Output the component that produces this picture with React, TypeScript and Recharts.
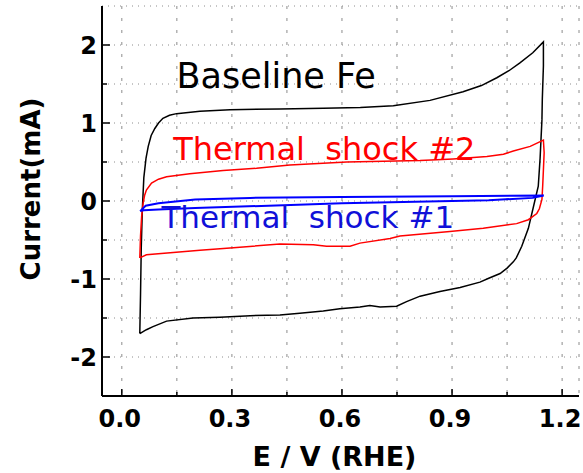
import React from 'react';
import { LineChart, Line, XAxis, YAxis, CartesianGrid, ReferenceDot } from 'recharts';

// ---- axis ticks ----
const xTicks = [0, 0.15, 0.3, 0.45, 0.6, 0.75, 0.9, 1.05, 1.2];
const xTickLabels = ['0.0', '0.3', '0.6', '0.9', '1.2'];
const yTicks = [-2, -1.5, -1, -0.5, 0, 0.5, 1, 1.5, 2];
const yTickLabels = ['-2', '-1', '0', '1', '2'];
const xDomain = [-0.054, 1.246];
const yDomain = [-2.5, 2.5];

// ---- Baseline Fe (black) ----
const baselineE = [
  0.049, 0.051, 0.053, 0.056, 0.060, 0.066, 0.072, 0.080, 0.090, 0.100, 0.112, 0.130, 0.149, 0.213, 0.295, 0.431, 0.549, 0.650, 0.740, 0.840, 0.930, 0.980, 1.022, 1.055, 1.085, 1.120, 1.149,
  1.149, 1.146, 1.145, 1.140, 1.135, 1.122, 1.108, 1.090, 1.075, 1.067, 1.050, 1.031, 1.000, 0.976, 0.922, 0.867, 0.813, 0.776, 0.749, 0.704, 0.676, 0.649, 0.594, 0.549, 0.485, 0.431, 0.350, 0.267, 0.194, 0.122, 0.085, 0.067, 0.049,
];
const baselineI = [
  -1.70, -1.20, -0.60, -0.10, 0.30, 0.55, 0.70, 0.84, 0.93, 1.00, 1.06, 1.10, 1.12, 1.15, 1.17, 1.18, 1.19, 1.20, 1.22, 1.29, 1.40, 1.48, 1.58, 1.67, 1.77, 1.90, 2.04,
  1.73, 1.30, 1.04, 0.55, 0.19, -0.07, -0.35, -0.58, -0.73, -0.78, -0.86, -0.93, -0.99, -1.04, -1.11, -1.16, -1.22, -1.29, -1.35, -1.36, -1.34, -1.36, -1.38, -1.41, -1.44, -1.46, -1.47, -1.49, -1.50, -1.54, -1.61, -1.65, -1.70,
];

// ---- Thermal shock #2 (red) ----
const shock2E = [
  0.049, 0.051, 0.054, 0.058, 0.062, 0.067, 0.081, 0.100, 0.122, 0.185, 0.276, 0.367, 0.458, 0.613, 0.813, 0.903, 0.995, 1.040, 1.067, 1.113, 1.149,
  1.151, 1.149, 1.147, 1.145, 1.138, 1.131, 1.108, 1.076, 0.985, 0.894, 0.758, 0.731, 0.649, 0.622, 0.558, 0.522, 0.431, 0.304, 0.213, 0.140, 0.067, 0.049,
];
const shock2I = [
  -0.73, -0.45, -0.20, -0.03, 0.07, 0.14, 0.23, 0.28, 0.31, 0.35, 0.39, 0.42, 0.46, 0.50, 0.52, 0.54, 0.57, 0.60, 0.64, 0.70, 0.78,
  0.62, 0.40, 0.19, 0.02, -0.10, -0.16, -0.24, -0.29, -0.35, -0.39, -0.45, -0.48, -0.54, -0.58, -0.58, -0.56, -0.55, -0.60, -0.63, -0.66, -0.69, -0.73,
];

// ---- Thermal shock #1 (blue) ----
const shock1E = [
  0.050, 0.065, 0.100, 0.200, 0.350, 0.600, 0.900, 1.150,
  1.120, 1.000, 0.800, 0.600, 0.400, 0.200, 0.100, 0.060, 0.050,
];
const shock1I = [
  -0.13, -0.06, -0.03, 0.02, 0.04, 0.05, 0.06, 0.07,
  0.04, 0.01, -0.01, -0.03, -0.06, -0.09, -0.11, -0.12, -0.13,
];

const seriesNames = ['Baseline Fe', 'Thermal\u00A0 shock #2', 'Thermal\u00A0 shock #1'];

const zip = (e: number[], i: number[]) => e.map((x, k) => ({ x, y: i[k] }));
const baselineData = zip(baselineE, baselineI);
const shock2Data = zip(shock2E, shock2I);
const shock1Data = zip(shock1E, shock1I);

const FONT = '"DejaVu Sans", sans-serif';

const XTick = (props: any) => {
  const { x, y, payload } = props;
  const v = payload.value;
  const label = xTickLabels.find((l) => Math.abs(parseFloat(l) - v) < 1e-6);
  return (
    <g>
      <line x1={x} x2={x} y1={y} y2={y - (label ? 7 : 4)} stroke="#000" strokeWidth={1.5} />
      {label && (
        <text x={x - 2} y={y + 31} textAnchor="middle" fontFamily={FONT} fontWeight="bold" fontSize={24} fill="#000">
          {label}
        </text>
      )}
    </g>
  );
};

const YTick = (props: any) => {
  const { x, y, payload } = props;
  const v = payload.value;
  const label = yTickLabels.find((l) => Math.abs(parseFloat(l) - v) < 1e-6);
  return (
    <g>
      <line x1={x} x2={x + (label ? 8 : 5)} y1={y} y2={y} stroke="#000" strokeWidth={1.5} />
      {label && (
        <text x={x - 5} y={y + 8.5} textAnchor="end" fontFamily={FONT} fontWeight="bold" fontSize={24} fill="#000">
          {label}
        </text>
      )}
    </g>
  );
};

const YTitle = (props: any) => {
  const vb = props.viewBox;
  const cx = vb.x + 40;
  const cy = vb.y + vb.height / 2 - 12;
  return (
    <text x={cx} y={cy} transform={`rotate(-90, ${cx}, ${cy})`} textAnchor="middle" fontFamily={FONT} fontWeight="bold" fontSize={26} fill="#000">
      Current(mA)
    </text>
  );
};

const XTitle = (props: any) => {
  const vb = props.viewBox;
  return (
    <text x={vb.x + vb.width / 2 - 6} y={vb.y + 70} textAnchor="middle" fontFamily={FONT} fontWeight="bold" fontSize={27} fill="#000">
      E / V (RHE)
    </text>
  );
};

const makeNote = (text: string, color: string, size: number) => (props: any) => {
  const vb = props.viewBox;
  return (
    <text x={vb.x} y={vb.y} textAnchor="start" fontFamily={FONT} fontSize={size} fill={color}>
      {text}
    </text>
  );
};

export default function App() {
  return (
    <div style={{ position: 'absolute', left: 0, top: 0, width: 583, height: 473, background: '#fff' }}>
      <LineChart width={583} height={473} margin={{ top: 6, right: 4, bottom: 0, left: 0 }}>
        <CartesianGrid horizontal={false} stroke="#8c8c8c" strokeDasharray="3 9" />
        <CartesianGrid vertical={false} stroke="#8c8c8c" strokeDasharray="1 5" />
        <XAxis
          dataKey="x"
          type="number"
          domain={xDomain}
          ticks={xTicks}
          allowDataOverflow
          height={77}
          tickLine={false}
          tickSize={0}
          tickMargin={0}
          interval={0}
          axisLine={{ stroke: '#000', strokeWidth: 2 }}
          tick={<XTick />}
          label={{ content: XTitle } as any}
        />
        <XAxis
          xAxisId="top"
          orientation="top"
          type="number"
          domain={xDomain}
          allowDataOverflow
          height={0}
          tick={false}
          tickLine={false}
          axisLine={{ stroke: '#444', strokeWidth: 1.5 }}
        />
        <YAxis
          dataKey="y"
          type="number"
          domain={yDomain}
          ticks={yTicks}
          allowDataOverflow
          width={102}
          tickLine={false}
          tickSize={0}
          tickMargin={0}
          interval={0}
          axisLine={{ stroke: '#000', strokeWidth: 2 }}
          tick={<YTick />}
          label={{ content: YTitle } as any}
        />
        <YAxis
          yAxisId="right"
          orientation="right"
          type="number"
          domain={yDomain}
          allowDataOverflow
          width={0}
          tick={false}
          tickLine={false}
          axisLine={{ stroke: '#666', strokeWidth: 2 }}
        />
        <Line data={baselineData} dataKey="y" name={seriesNames[0]} type="linear" stroke="#000" strokeWidth={1.5} dot={false} isAnimationActive={false} />
        <Line data={shock2Data} dataKey="y" name={seriesNames[1]} type="linear" stroke="#ff0000" strokeWidth={1.5} dot={false} isAnimationActive={false} />
        <Line data={shock1Data} dataKey="y" name={seriesNames[2]} type="linear" stroke="#0000ff" strokeWidth={2} dot={false} isAnimationActive={false} />
        <ReferenceDot x={0.149} y={1.45} r={0} fill="none" stroke="none" label={{ content: makeNote(seriesNames[0], '#000', 35) } as any} />
        <ReferenceDot x={0.14} y={0.53} r={0} fill="none" stroke="none" label={{ content: makeNote(seriesNames[1], '#ff0000', 32) } as any} />
        <ReferenceDot x={0.108} y={-0.346} r={0} fill="none" stroke="none" label={{ content: makeNote(seriesNames[2], '#1010d8', 31) } as any} />
      </LineChart>
    </div>
  );
}
